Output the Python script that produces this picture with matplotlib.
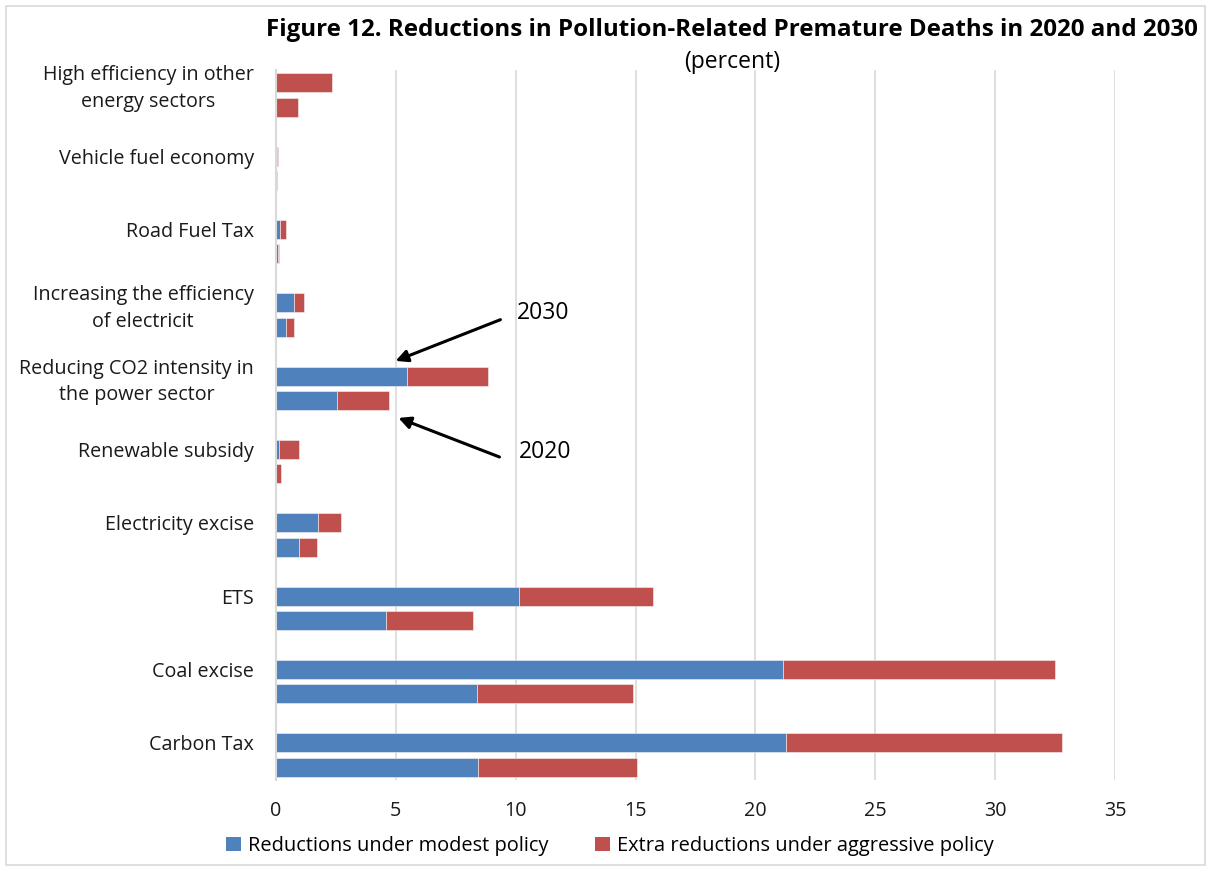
import matplotlib
matplotlib.use("Agg")
import matplotlib.pyplot as plt
import numpy as np
from matplotlib.patches import Patch, Rectangle

plt.rcParams['font.family'] = ['Open Sans', 'DejaVu Sans']

categories = ["Carbon Tax", "Coal excise", "ETS", "Electricity excise", "Renewable subsidy",
              "Reducing CO2 intensity in\nthe power sector", "Increasing the efficiency\nof electricit",
              "Road Fuel Tax", "Vehicle fuel economy", "High efficiency in other\nenergy sectors"]

# 2030 values (top bar of each pair)
modest_2030 = [21.28, 21.14, 10.15, 1.74, 0.14, 5.48, 0.74, 0.18, 0.05, 0.0]
extra_2030 = [11.52, 11.34, 5.57, 0.97, 0.82, 3.35, 0.44, 0.22, 0.03, 2.34]
# 2020 values (bottom bar of each pair)
modest_2020 = [8.44, 8.40, 4.60, 0.97, 0.01, 2.56, 0.40, 0.07, 0.01, 0.0]
extra_2020 = [6.61, 6.49, 3.62, 0.75, 0.18, 2.14, 0.34, 0.07, 0.02, 0.90]

series_names = ["Reductions under modest policy", "Extra reductions under aggressive policy"]
blue = "#4F81BD"
red = "#C0504D"
grid_c = "#D9D9D9"

W, H = 1212, 871
fig = plt.figure(figsize=(W / 100, H / 100), dpi=100)
ax = fig.add_axes([276 / W, 1 - 780 / H, 839 / W, 710 / H])

y = np.arange(len(categories))
off = 0.165
h = 0.26
kw = dict(height=h, edgecolor='#f4f4f4', linewidth=0.4)
ax.barh(y + off, modest_2030, color=blue, **kw)
ax.barh(y + off, extra_2030, left=modest_2030, color=red, **kw)
ax.barh(y - off, modest_2020, color=blue, **kw)
ax.barh(y - off, extra_2020, left=modest_2020, color=red, **kw)

ax.set_xlim(0, 35)
ax.set_ylim(-0.34, 9.34)
ax.set_xticks(np.arange(0, 36, 5))
ax.set_yticks(y + off)
ax.set_yticklabels(categories, fontsize=14.2, color='#1a1a1a')
for lab in ax.get_yticklabels():
    lab.set_multialignment('center')
    lab.set_linespacing(1.45)
ax.tick_params(axis='x', labelsize=14.2, length=0, pad=15, labelcolor='#1a1a1a')
ax.tick_params(axis='y', length=0, pad=16)
ax.xaxis.grid(True, color=grid_c, linewidth=1.2)
ax.set_axisbelow(True)
for s in ['top', 'right', 'bottom']:
    ax.spines[s].set_visible(False)
ax.spines['left'].set_color(grid_c)
ax.spines['left'].set_linewidth(1.5)

# Title
fig.text(1198 / W, 1 - 30 / H, "Figure 12. Reductions in Pollution-Related Premature Deaths in 2020 and 2030",
         ha='right', va='center', fontsize=17.4, fontweight='bold')
fig.text(732 / W, 1 - 62 / H, "(percent)", ha='center', va='center', fontsize=16.5)

# Annotations
ax.annotate("", xy=(4.88, 5.36), xytext=(9.47, 5.95),
            arrowprops=dict(arrowstyle='-|>', color='black', lw=2.2, mutation_scale=18))
ax.text(10.05, 6.03, "2030", fontsize=16.5, va='center', ha='left')
ax.annotate("", xy=(5.0, 4.61), xytext=(9.43, 4.05),
            arrowprops=dict(arrowstyle='-|>', color='black', lw=2.2, mutation_scale=18))
ax.text(10.14, 4.13, "2020", fontsize=16.5, va='center', ha='left')

handles = [Patch(facecolor=blue), Patch(facecolor=red)]
fig.legend(handles, series_names, loc='center', bbox_to_anchor=(610 / W, 1 - 846 / H), ncol=2,
           frameon=False, fontsize=14.4, handlelength=0.75, handleheight=0.75, columnspacing=2.3,
           handletextpad=0.35)

# Figure border
fig.patches.append(Rectangle((6 / W, 6 / H), 1199 / W, 859 / H, transform=fig.transFigure,
                             fill=False, edgecolor='#D9D9D9', linewidth=1.2))

fig.savefig("out.png", dpi=100)
